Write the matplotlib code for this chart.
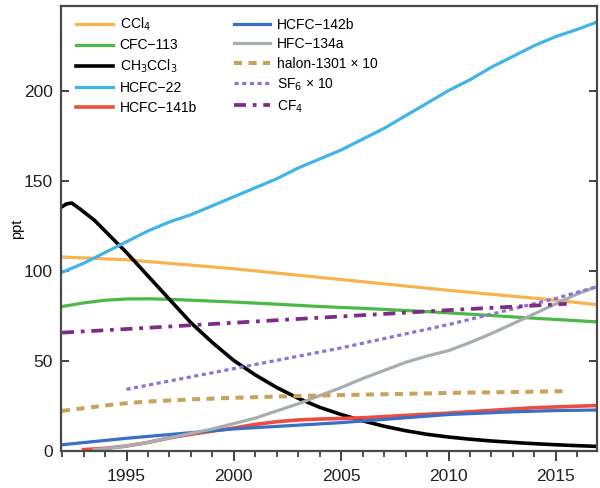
import matplotlib.pyplot as plt
from matplotlib.ticker import MultipleLocator

plt.rcParams['font.family'] = ['Liberation Sans', 'DejaVu Sans']

# CCl4
ccl4_yr = [1992, 1995, 2000, 2005, 2010, 2015, 2016.9]
ccl4 = [107.5, 106, 101, 95, 89, 83.5, 81]

# CFC-113
cfc113_yr = [1992, 1993, 1994, 1995, 1996, 1997, 1998, 2000, 2002, 2004, 2006, 2008, 2010, 2012, 2014, 2016.9]
cfc113 = [80, 82, 83.5, 84.2, 84.3, 84, 83.5, 82.5, 81.3, 80, 79, 77.8, 76.5, 75, 73.5, 71.5]

# CH3CCl3
mc_yr = [1992, 1992.2, 1992.45, 1992.8, 1993.5, 1994, 1995, 1996, 1997, 1998, 1999, 2000, 2001, 2002, 2003, 2004,
         2005, 2006, 2007, 2008, 2009, 2010, 2011, 2012, 2013, 2014, 2015, 2016, 2016.9]
mc = [135.5, 137, 137.5, 134.5, 128, 122, 110, 97, 84, 71, 60, 50, 42, 35, 29, 24,
      20, 16.5, 13.5, 11, 9, 7.5, 6.3, 5.3, 4.5, 3.8, 3.2, 2.7, 2.3]

# HCFC-22
h22_yr = [1992, 1993, 1994, 1995, 1996, 1997, 1998, 1999, 2000, 2001, 2002, 2003, 2004, 2005,
          2006, 2007, 2008, 2009, 2010, 2011, 2012, 2013, 2014, 2015, 2016, 2016.9]
h22 = [99, 104, 110, 116, 122, 127, 131, 136, 141, 146, 151, 157, 162, 167,
       173, 179, 186, 193, 200, 206, 213, 219, 225, 230, 234, 238]

# HCFC-141b
h141_yr = [1993, 1994, 1995, 1996, 1997, 1998, 1999, 2000, 2001, 2002, 2003, 2004, 2005, 2006,
           2008, 2010, 2012, 2014, 2016.9]
h141 = [0.5, 1.2, 2.5, 4.5, 7, 9, 10.8, 12.5, 14.5, 16, 17, 17.5, 17.8, 18.2,
        19.5, 20.8, 22.3, 23.8, 25]

# HCFC-142b
h142_yr = [1992, 1995, 2000, 2005, 2010, 2013, 2015, 2016.9]
h142 = [3.2, 6.8, 12, 15.5, 20, 21.5, 22.2, 22.5]

# HFC-134a
h134_yr = [1993.5, 1994, 1995, 1996, 1997, 1998, 1999, 2000, 2001, 2002, 2003, 2004, 2005, 2006,
           2007, 2008, 2009, 2010, 2011, 2012, 2013, 2014, 2015, 2016, 2016.9]
h134 = [0.5, 1, 2.5, 4.5, 7, 9.5, 12, 15, 18, 22, 26, 30.5, 35, 40,
        44.5, 49, 52.5, 55.5, 60, 65, 70.5, 76, 81.5, 87, 91]

# halon-1301 x 10
halon_yr = [1992, 1993, 1994, 1995, 1996, 1997, 1998, 2000, 2002, 2005, 2008, 2010, 2013, 2015.5]
halon = [22, 23.5, 25, 26.3, 27.2, 27.8, 28.4, 29.3, 30, 30.8, 31.5, 32, 32.5, 33]

# SF6 x 10
sf6_yr = [1995, 1996.5, 2000, 2005, 2010, 2015, 2016.9]
sf6 = [34, 37.5, 45.5, 57, 70, 84.5, 91]

# CF4
cf4_yr = [1992, 1995, 2000, 2005, 2010, 2015.5]
cf4 = [65.5, 67.5, 71, 74.5, 78, 81.5]

fig = plt.figure(figsize=(6, 4.88), dpi=100)
ax = fig.add_axes([0.1017, 0.0768, 0.8928, 0.9099])

lw = 2.3
ax.plot(ccl4_yr, ccl4, c='#f9b250', lw=lw, label=r'CCl$_4$')
ax.plot(cfc113_yr, cfc113, c='#4cb848', lw=lw, label='CFC\u2212113')
ax.plot(mc_yr, mc, c='black', lw=lw + 0.3, label=r'CH$_3$CCl$_3$')
ax.plot(h22_yr, h22, c='#43b4ea', lw=lw, label='HCFC\u221222')
ax.plot(h141_yr, h141, c='#ee4c3c', lw=lw + 0.3, label='HCFC\u2212141b')
ax.plot(h142_yr, h142, c='#3b6fc6', lw=lw, label='HCFC\u2212142b')
ax.plot(h134_yr, h134, c='#a6aeb0', lw=lw, label='HFC\u2212134a')
ax.plot(halon_yr, halon, c='#c9a25c', lw=lw + 0.6, ls=(0, (2.0, 1.6)), label='halon-1301 \u00d7 10')
ax.plot(sf6_yr, sf6, c='#8f72d8', lw=lw, ls=(0, (1.3, 1.1)), label='SF$_6$ \u00d7 10')
ax.plot(cf4_yr, cf4, c='#7d2d86', lw=lw + 0.4, ls=(0, (3.2, 1.8, 1, 1.8)), label=r'CF$_4$')

ax.set_xlim(1991.95, 2016.9)
ax.set_ylim(0, 246.7)
ax.xaxis.set_major_locator(MultipleLocator(5))
ax.xaxis.set_minor_locator(MultipleLocator(1))
ax.yaxis.set_major_locator(MultipleLocator(50))
ax.tick_params(axis='both', which='major', labelsize=12.5, color='#333333', width=1.3,
               labelcolor='#222222')
ax.tick_params(axis='x', which='major', length=7.2, pad=6)
ax.tick_params(axis='x', which='minor', length=4.3, color='#333333', width=1.2)
ax.tick_params(axis='y', which='major', direction='in', length=5.8, right=True, pad=6)
for s in ax.spines.values():
    s.set_color('#4a4a4a')
    s.set_linewidth(1.6)

ax.set_ylabel('ppt', fontsize=10.5, labelpad=0)

# legend sits a little in from the left spine, like the original
ax.legend(loc='upper left', bbox_to_anchor=(0.012, 1.0), ncol=2, frameon=False, fontsize=10,
          handlelength=2.6, columnspacing=2.7, labelspacing=0.4, borderaxespad=0.25,
          handletextpad=0.5, borderpad=0.4)

fig.savefig('out.png', dpi=100)
